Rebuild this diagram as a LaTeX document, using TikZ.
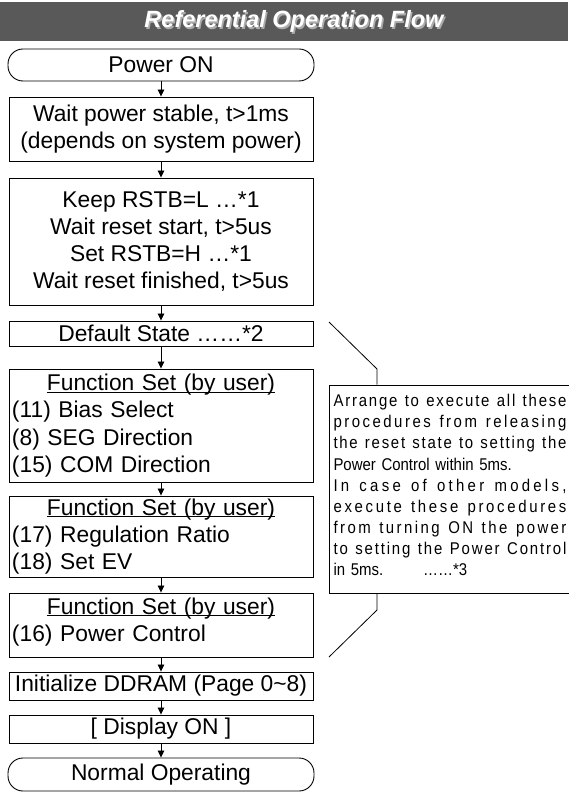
\documentclass[tikz,border=0pt]{standalone}
\usepackage{fontspec}
\setmainfont{Liberation Sans}
\newfontfamily\notefont[FakeStretch=0.88]{Liberation Sans}
\usetikzlibrary{arrows.meta}
\definecolor{band}{HTML}{595959}
\newcommand\mainfs{\fontsize{22.8}{27.3}\selectfont}
\newcommand\notefs{\notefont\fontsize{17}{21.1}\selectfont}
\newcommand\titlefs{\fontsize{23.5}{27}\selectfont\bfseries\itshape}
\ExplSyntaxOn
\seq_new:N \l__jl_words_seq
\bool_new:N \l__jl_first_bool
\NewDocumentCommand \jline { m }
  {
    \leavevmode
    \hbox_to_wd:nn { 233pt }
      {
        \seq_set_split:Nnn \l__jl_words_seq { ~ } { #1 }
        \bool_set_true:N \l__jl_first_bool
        \seq_map_inline:Nn \l__jl_words_seq
          {
            \bool_if:NF \l__jl_first_bool { \hskip 0.22em plus 2fil \relax }
            \bool_set_true:N \l__jl_first_bool
            \tl_map_inline:nn { ##1 }
              {
                \bool_if:NF \l__jl_first_bool { \hskip 0pt plus 1fil \relax }
                \bool_set_false:N \l__jl_first_bool
                ####1
              }
          }
      }
  }
\ExplSyntaxOff
\newsavebox\ulbox
\newcommand\ulhead[1]{\sbox\ulbox{#1}\rlap{\rule[-2.2pt]{\wd\ulbox}{1pt}}\usebox\ulbox}
\newcommand\fshead{\makebox[298pt]{\ulhead{Function Set (by user)}}}
\begin{document}
\begin{tikzpicture}[x=1pt,y=-1pt,
  box/.style={draw, line width=0.9pt, minimum width=304pt, inner sep=0pt, font=\mainfs, align=center},
  term/.style={box, minimum width=306pt, rounded corners=15pt},
  fsbox/.style={box, text width=298pt, align=left},
  arr/.style={-{Triangle[width=6.5pt,length=7pt]}, line width=0.8pt},
  thin/.style={line width=0.8pt},
  note/.style={draw, line width=0.9pt, minimum width=242pt, minimum height=208pt, inner xsep=3.5pt, inner ysep=0pt, text width=233pt, align=left, font=\notefs}]
\useasboundingbox (0,0) rectangle (568,799);
\fill[band] (0,2) rectangle (568,41);
\node[font=\titlefs, text=gray!65] (tshadow) at (295.5,23) {Referential Operation Flow};
\node[font=\titlefs, text=white] (title) at (294,21.5) {Referential Operation Flow};

\node[term, minimum height=32pt] (pon) at (161,65) {Power ON};
\node[box, minimum height=64pt] (wait) at (161,129) {Wait power stable, t>1ms\\(depends on system power)};
\node[box, minimum height=127pt] (rst) at (161,241.5) {Keep RSTB=L …*1\\Wait reset start, t>5us\\Set RSTB=H …*1\\Wait reset finished, t>5us};
\node[box, minimum height=25pt] (def) at (161,333.5) {Default State ……*2};
\node[fsbox, minimum height=113pt] (fs1) at (161,425.5) {\fshead\\(11) Bias Select\\(8) SEG Direction\\(15) COM Direction};
\node[fsbox, minimum height=81pt] (fs2) at (161,536.5) {\fshead\\(17) Regulation Ratio\\(18) Set EV};
\node[fsbox, minimum height=64pt, text height=16pt, text depth=38pt] (fs3) at (161,625) {\fshead\\(16) Power Control};
\node[box, minimum height=28pt] (ddr) at (161,686) {Initialize DDRAM (Page 0\textasciitilde 8)};
\node[box, minimum height=28pt] (disp) at (161,729) {[ Display ON ]};
\node[term, minimum height=33pt] (nop) at (161,774.5) {Normal Operating};

\draw[arr] (pon) -- (wait);
\draw[arr] (wait) -- (rst);
\draw[arr] (rst) -- (def);
\draw[arr] (def) -- (fs1);
\draw[arr] (fs1) -- (fs2);
\draw[arr] (fs2) -- (fs3);
\draw[arr] (fs3) -- (ddr);
\draw[arr] (ddr) -- (disp);
\draw[arr] (disp) -- (nop);

\node[note, text height=12.4pt, text depth=177pt] (nt) at (450,489) {\jline{Arrange to execute all these}\\
\jline{procedures from releasing}\\
\jline{the reset state to setting the}\\
Power Control within 5ms.\\
\jline{In case of other models,}\\
\jline{execute these procedures}\\
\jline{from turning ON the power}\\
\jline{to setting the Power Control}\\
in 5ms.\hspace{40pt}……*3};

\coordinate (a1) at (329,322);
\coordinate (a2) at (377,369);
\coordinate (b1) at (377,610);
\coordinate (b2) at (329,657);
\draw[thin] (a1) -- (a2) -- (a2 |- nt.north);
\draw[thin] (b1 |- nt.south) -- (b1) -- (b2);
\end{tikzpicture}
\end{document}
